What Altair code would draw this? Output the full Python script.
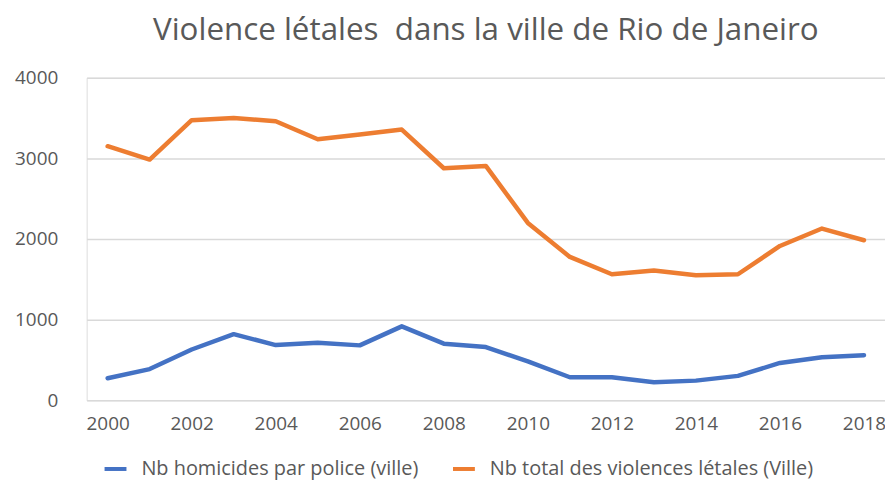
import altair as alt
import pandas as pd

years = list(range(2000, 2019))
police = [273, 387, 630, 820, 685, 714, 681, 917, 702, 660, 483, 286, 286, 223, 244, 303, 463, 534, 559]
total = [3151, 2986, 3474, 3502, 3461, 3238, 3296, 3358, 2878, 2907, 2200, 1778, 1563, 1609, 1551, 1563, 1914, 2130, 1985]
series_names = ["Nb homicides par police (ville)", "Nb total des violences létales (Ville)"]
colors = ["#4472C4", "#ED7D31"]
title_text = "Violence létales\u00a0 dans la ville de Rio de Janeiro"

rows = []
for y, v in zip(years, police):
    rows.append({"annee": y, "valeur": v, "serie": series_names[0]})
for y, v in zip(years, total):
    rows.append({"annee": y, "valeur": v, "serie": series_names[1]})
df = pd.DataFrame(rows)

FONT = "Open Sans"
GREY = "#595959"

chart = alt.Chart(df).mark_line(strokeWidth=4.5, strokeCap="round", strokeJoin="round").encode(
    x=alt.X("annee:Q",
            scale=alt.Scale(domain=[1999.5, 2018.5], nice=False, zero=False),
            axis=alt.Axis(values=list(range(2000, 2019, 2)), format="d", title=None,
                          grid=False, ticks=False, domain=False,
                          labelPadding=14, labelFontSize=19, labelColor=GREY, labelFont=FONT)),
    y=alt.Y("valeur:Q",
            scale=alt.Scale(domain=[0, 4000], nice=False),
            axis=alt.Axis(values=[0, 1000, 2000, 3000, 4000], format="d", title=None,
                          ticks=False, domain=False, gridColor="#d9d9d9", gridWidth=1.5,
                          labelPadding=29, labelFontSize=19, labelColor=GREY, labelFont=FONT)),
    color=alt.Color("serie:N",
                    scale=alt.Scale(domain=series_names, range=colors),
                    legend=alt.Legend(title=None, orient="none", legendX=16, legendY=380,
                                      direction="horizontal", symbolType="stroke",
                                      symbolStrokeWidth=4, symbolSize=484,
                                      labelFontSize=20, labelColor=GREY, labelFont=FONT,
                                      labelOffset=13, columnPadding=26, labelLimit=0)),
).properties(
    width=802,
    height=324,
    title=alt.Title(title_text, fontSize=31.5, font=FONT, fontWeight="normal", color=GREY,
                    anchor="middle", baseline="alphabetic", offset=-3),
    autosize=alt.AutoSizeParams(type="none"),
    padding={"left": 79, "top": 69, "right": 0, "bottom": 80},
).configure_view(stroke=None).configure(background="white")

chart.save("out.html", embed_options={"renderer": "svg", "actions": False})
